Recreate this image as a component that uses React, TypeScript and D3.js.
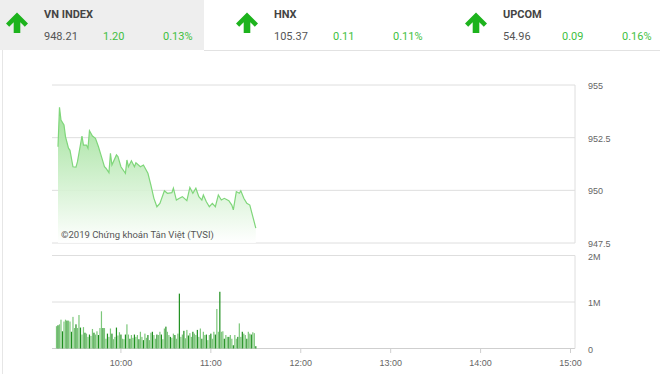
import React from "react";
import * as d3 from "d3";

const indexNames = ["VN INDEX", "HNX", "UPCOM"];
const indexValues = ["948.21", "105.37", "54.96"];
const indexChanges = ["1.20", "0.11", "0.09"];
const indexPercents = ["0.13%", "0.11%", "0.16%"];

const priceTicks = [947.5, 950, 952.5, 955];
const volumeTicks = [0, 1, 2];
const timeTicks = ["10:00", "11:00", "12:00", "13:00", "14:00", "15:00"];

const priceTimes = ["09:18","09:19","09:20","09:22","09:23","09:25","09:26","09:28","09:30","09:31","09:34","09:35","09:37","09:38","09:39","09:41","09:43","09:45","09:47","09:49","09:50","09:52","09:53","09:54","09:57","09:58","10:00","10:03","10:04","10:05","10:07","10:09","10:10","10:13","10:15","10:18","10:20","10:22","10:24","10:26","10:29","10:31","10:34","10:35","10:37","10:39","10:41","10:44","10:46","10:48","10:50","10:52","10:54","10:55","10:57","10:59","11:01","11:03","11:05","11:07","11:09","11:12","11:14","11:15","11:17","11:19","11:20","11:22","11:24","11:26","11:28","11:30"];
const priceValues = [952.07,953.94,953.34,953.1,952.55,952.0,951.9,951.12,951.1,951.36,952.58,952.15,952.15,952.0,952.83,952.58,952.47,952.07,951.6,951.12,951.05,950.84,951.76,951.2,951.68,951.6,951.12,950.81,951.44,951.12,951.4,951.12,951.31,951.12,951.2,950.81,950.25,949.62,949.22,949.38,949.98,949.86,949.89,950.1,949.54,949.62,949.7,949.51,950.14,949.86,950.1,949.7,949.54,949.78,949.46,949.22,949.38,949.22,949.78,949.54,949.62,949.51,949.3,949.07,949.94,949.86,949.98,949.62,949.38,949.3,948.75,948.21];

const volumeStart = "09:17";
// millions of shares per minute
const volumes = [
  0.48,0.50,0.52,0.62,0.37,0.58,0.62,0.60,0.60,0.58,0.36,0.68,0.44,0.52,0.44,0.72,0.45,0.30,0.46,0.34,0.32,0.25,0.30,0.27,0.42,0.34,0.30,0.37,0.29,0.44,0.80,0.44,0.44,0.21,0.32,0.25,0.43,0.32,0.20,0.25,0.45,0.28,0.35,0.30,
  0.21,0.20,0.30,0.52,0.30,0.21,0.29,0.23,0.30,0.25,0.29,0.20,0.36,0.25,0.18,0.32,0.23,0.29,0.18,0.34,0.36,0.29,0.21,0.30,0.29,0.36,0.30,0.20,0.43,0.47,0.36,0.29,0.25,0.23,0.32,0.29,0.21,0.32,1.18,0.25,0.30,0.38,0.22,0.40,0.28,0.33,0.25,0.36,
  0.32,0.29,0.40,0.25,0.43,0.21,0.36,0.29,0.30,0.18,0.29,0.32,0.21,0.36,0.30,0.85,0.36,1.22,0.36,0.37,0.21,0.29,0.25,0.25,0.29,0.21,0.07,0.29,0.21,0.25,0.54,0.25,0.36,0.32,0.29,0.21,0.36,0.32,0.30,0.35,0.33,0.05
];

const parse = d3.timeParse("%H:%M");

const GREEN = "#3fbf3f";
const ARROW = "#1db31d";

function Arrow({ cx, cy }: { cx: number; cy: number }) {
  const pts = [
    [0, -10.5], [11, 0.5], [7.8, 3.8], [3.3, -0.7], [3.3, 10], [-3.3, 10],
    [-3.3, -0.7], [-7.8, 3.8], [-11, 0.5],
  ];
  return (
    <polygon
      points={pts.map(([x, y]) => `${cx + x},${cy + y}`).join(" ")}
      fill={ARROW}
    />
  );
}

export default function App() {
  const W = 660, H = 374;
  const left = 52, right = 575;
  const x = d3.scaleTime().domain([parse("09:14")!, parse("15:03")!]).range([left, right]);
  const yP = d3.scaleLinear().domain([947.5, 955]).range([243, 85]);
  const yV = d3.scaleLinear().domain([0, 2]).range([348.5, 255.5]);

  const pts = priceTimes.map((t, i) => ({ t: parse(t)!, v: priceValues[i] }));
  const line = d3.line<any>().x((d) => x(d.t)).y((d) => yP(d.v));
  const area = d3.area<any>().x((d) => x(d.t)).y0(243).y1((d) => yP(d.v));

  const vStart = parse(volumeStart)!;
  const bars = volumes.map((v, i) => ({ t: d3.timeMinute.offset(vStart, i), v }));

  const headerX = [0, 230, 459];
  const font = "Roboto, 'Liberation Sans', Arial, sans-serif";
  const axisFont = "'Liberation Sans', Arial, sans-serif";

  return (
    <svg width={W} height={H} style={{ position: "absolute", left: 0, top: 0, background: "#fff" }}>
      <defs>
        <linearGradient id="ag" gradientUnits="userSpaceOnUse" x1="0" y1="100" x2="0" y2="243">
          <stop offset="0" stopColor="#8fdc88" stopOpacity="0.9" />
          <stop offset="1" stopColor="#ffffff" stopOpacity="0.9" />
        </linearGradient>
      </defs>
      {/* header */}
      <rect x={0} y={0} width={204} height={50} fill="#eeeeee" />
      <line x1={204} x2={W} y1={50.5} y2={50.5} stroke="#e2e2e2" />
      <line x1={2.5} x2={2.5} y1={50} y2={H} stroke="#e6e6e6" />
      {indexNames.map((n, i) => {
        const ox = headerX[i];
        return (
          <g key={n} fontFamily={font}>
            <Arrow cx={ox + 17} cy={23} />
            <text x={ox + 44} y={18} fontSize={11} fontWeight="bold" fill="#444">{n}</text>
            <text x={ox + 44} y={40} fontSize={11} fill="#555">{indexValues[i]}</text>
            <text x={ox + 103} y={40} fontSize={11} fill={GREEN}>{indexChanges[i]}</text>
            <text x={ox + 163} y={40} fontSize={11} fill={GREEN}>{indexPercents[i]}</text>
          </g>
        );
      })}

      {/* price grid */}
      {priceTicks.map((t) => (
        <g key={t}>
          <line x1={left} x2={right} y1={yP(t)} y2={yP(t)} stroke="#dedede" />
          <text x={588} y={yP(t) + 4} fontSize={9} fill="#666" fontFamily={axisFont}>{t}</text>
        </g>
      ))}
      <line x1={right} x2={right} y1={yP(955)} y2={yP(947.5)} stroke="#dedede" />
      <path d={area(pts)!} fill="url(#ag)" />
      <path d={line(pts)!} fill="none" stroke="#7fd67a" strokeWidth={1.2} />
      <text x={61} y={238} fontSize={9.5} fill="#555" fontFamily={font}>©2019 Chứng khoán Tân Việt (TVSI)</text>

      {/* volume grid */}
      {volumeTicks.map((t) => (
        <g key={t}>
          <line x1={left} x2={right} y1={yV(t)} y2={yV(t)} stroke={t === 0 ? "#cfcfcf" : "#dedede"} />
          <text x={588} y={yV(t) + 4} fontSize={9} fill="#666" fontFamily={axisFont}>{t === 0 ? "0" : `${t}M`}</text>
        </g>
      ))}
      <line x1={right} x2={right} y1={yV(2)} y2={yV(0)} stroke="#dedede" />
      {bars.map((b, i) => (
        <rect
          key={i}
          x={x(b.t) - 0.6}
          y={yV(b.v)}
          width={1.2}
          height={yV(0) - yV(b.v)}
          fill={i % 3 === 1 ? "#1f8f1f" : "#7cc77a"}
        />
      ))}

      {/* time axis */}
      {timeTicks.map((t) => (
        <g key={t}>
          <line x1={x(parse(t)!)} x2={x(parse(t)!)} y1={348.5} y2={353} stroke="#cfcfcf" />
          <text x={x(parse(t)!)} y={366} fontSize={9} fill="#666" textAnchor="middle" fontFamily={axisFont}>{t}</text>
        </g>
      ))}
    </svg>
  );
}
